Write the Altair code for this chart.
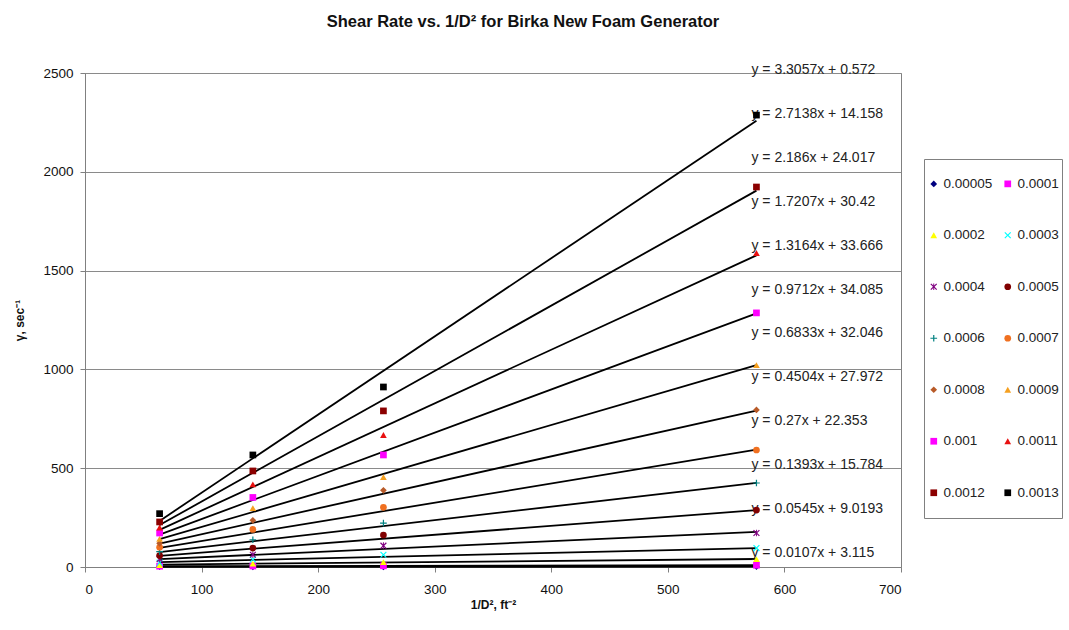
import altair as alt
import numpy as np
import pandas as pd

# 1/D^2 (ft^-2) for the four generator diameters
inv_d2 = [64, 144, 256, 576]

# Flow-rate settings, one series each
flow_rates = ["0.00005", "0.0001", "0.0002", "0.0003", "0.0004", "0.0005", "0.0006",
              "0.0007", "0.0008", "0.0009", "0.001", "0.0011", "0.0012", "0.0013"]

# Measured shear rate (1/s) at each 1/D^2 value
rate_00005 = [2, 1, 0, 2]
rate_0001 = [4, 5, 6, 9]
rate_0002 = [10, 17, 25, 40]
rate_0003 = [22, 38, 62, 96]
rate_0004 = [40, 62, 108, 172]
rate_0005 = [58, 96, 162, 288]
rate_0006 = [78, 138, 222, 425]
rate_0007 = [100, 190, 302, 592]
rate_0008 = [120, 236, 388, 795]
rate_0009 = [142, 298, 455, 1022]
rate_001 = [172, 352, 567, 1286]
rate_0011 = [200, 418, 668, 1589]
rate_0012 = [228, 486, 790, 1923]
rate_0013 = [270, 567, 911, 2287]

rates = [rate_00005, rate_0001, rate_0002, rate_0003, rate_0004, rate_0005, rate_0006,
         rate_0007, rate_0008, rate_0009, rate_001, rate_0011, rate_0012, rate_0013]

# Linear trendline coefficients shown on the chart (None: no equation displayed)
slopes = [None, 0.0107, 0.0545, 0.1393, 0.27, 0.4504, 0.6833,
          0.9712, 1.3164, 1.7207, 2.186, 2.7138, 3.3057, None]
intercepts = [None, 3.115, 9.0193, 15.784, 22.353, 27.972, 32.046,
              34.085, 33.666, 30.42, 24.017, 14.158, 0.572, None]

# Marker styling per series
colors = ["#000080", "#FF00FF", "#FFFF00", "#00FFFF", "#800080", "#800000", "#008080",
          "#F07020", "#B85A28", "#F5A020", "#FF00FF", "#E81010", "#8B0000", "#000000"]
X_PATH = "M-1,-0.75L-0.75,-1L0,-0.25L0.75,-1L1,-0.75L0.25,0L1,0.75L0.75,1L0,0.25L-0.75,1L-1,0.75L-0.25,0Z"
PLUS_PATH = "M-0.18,-1H0.18V-0.18H1V0.18H0.18V1H-0.18V0.18H-1V-0.18H-0.18Z"
STAR_PATH = X_PATH + "M-0.14,-1H0.14V1H-0.14Z"
shapes = ["diamond", "square", "triangle-up", X_PATH, STAR_PATH, "circle", PLUS_PATH,
          "circle", "diamond", "triangle-up", "square", "triangle-up", "square", "square"]
sizes = [45, 45, 50, 45, 50, 45, 55, 65, 50, 55, 50, 65, 115, 115]

# Scatter points
points = pd.DataFrame(
    [{"series": s, "x": xv, "y": yv} for s, r in zip(flow_rates, rates) for xv, yv in zip(inv_d2, r)]
)

# Trendline end points, from the displayed equations (least squares where none is shown)
line_rows = []
for s, r, m, b in zip(flow_rates, rates, slopes, intercepts):
    if m is None:
        m, b = np.polyfit(inv_d2, r, 1)
    for xv in (inv_d2[0], inv_d2[-1]):
        line_rows.append({"series": s, "x": xv, "y": m * xv + b})
lines = pd.DataFrame(line_rows)

# Equation labels, stacked down the right side from the steepest line
labeled = [(m, b) for m, b in zip(slopes, intercepts) if m is not None][::-1]
label_y = np.linspace(2515, 71, len(labeled))
labels = pd.DataFrame({
    "x": [inv_d2[-1]] * len(labeled),
    "y": label_y,
    "label": [f"y = {m:g}x + {b:g}" for m, b in labeled],
})

x_scale = alt.Scale(domain=[0, 700], nice=False, zero=False)
y_scale = alt.Scale(domain=[0, 2500], nice=False)
x_axis = alt.Axis(values=list(range(0, 701, 100)), format="d", title="1/D², ft⁻²", grid=False,
                  titleFontWeight="bold", titlePadding=4, labelPadding=10)
y_axis = alt.Axis(values=list(range(0, 2501, 500)), format="d", title="γ, sec⁻¹", grid=True,
                  titleFontWeight="bold", titlePadding=16, labelPadding=7)

legend = alt.Legend(
    title=" ", titleFontSize=10, titlePadding=5,
    orient="none", legendX=839, legendY=86, columns=2, direction="horizontal",
    columnPadding=8, rowPadding=21.5, padding=3,
    strokeColor="#808080", fillColor="white",
    labelFont="Liberation Sans", labelFontSize=13.5, labelColor="#222",
    labelExpr="[datum.label, '']", labelOffset=3, labelLimit=90,
    symbolStrokeWidth=0,
)

trend = alt.Chart(lines).mark_line(color="black", strokeWidth=1.8).encode(
    x=alt.X("x:Q", scale=x_scale, axis=x_axis),
    y=alt.Y("y:Q", scale=y_scale, axis=y_axis),
    detail="series:N",
)

eq_text = alt.Chart(labels).mark_text(
    align="left", baseline="middle", dx=-5, font="Liberation Sans", fontSize=14, color="#222"
).encode(x="x:Q", y="y:Q", text="label:N")

marks = alt.Chart(points).mark_point(filled=True, opacity=1, strokeWidth=0).encode(
    x="x:Q",
    y="y:Q",
    color=alt.Color("series:N", sort=flow_rates, scale=alt.Scale(domain=flow_rates, range=colors), legend=legend),
    shape=alt.Shape("series:N", sort=flow_rates, scale=alt.Scale(domain=flow_rates, range=shapes), legend=legend),
    size=alt.Size("series:N", sort=flow_rates, scale=alt.Scale(domain=flow_rates, range=sizes), legend=legend),
)

chart = alt.layer(trend, eq_text, marks).properties(
    width=816,
    height=494,
    autosize=alt.AutoSizeParams(type="none"),
    padding={"left": 85, "top": 73, "right": 168, "bottom": 63},
    title=alt.TitleParams(
        "Shear Rate vs. 1/D² for Birka New Foam Generator",
        font="Liberation Sans", fontSize=16.5, fontWeight="bold", color="#111",
        anchor="middle", dx=30, offset=33,
    ),
).configure_view(
    stroke="#808080", strokeWidth=1
).configure_axis(
    domainColor="#808080", tickColor="#808080", tickSize=5,
    gridColor="#8a8a8a", gridWidth=1,
    labelFont="Liberation Sans", labelFontSize=13.5, labelColor="#111",
    titleFont="Liberation Sans", titleFontSize=12, titleColor="#111",
)

chart.save("out.html", embed_options={"renderer": "svg", "actions": False})
